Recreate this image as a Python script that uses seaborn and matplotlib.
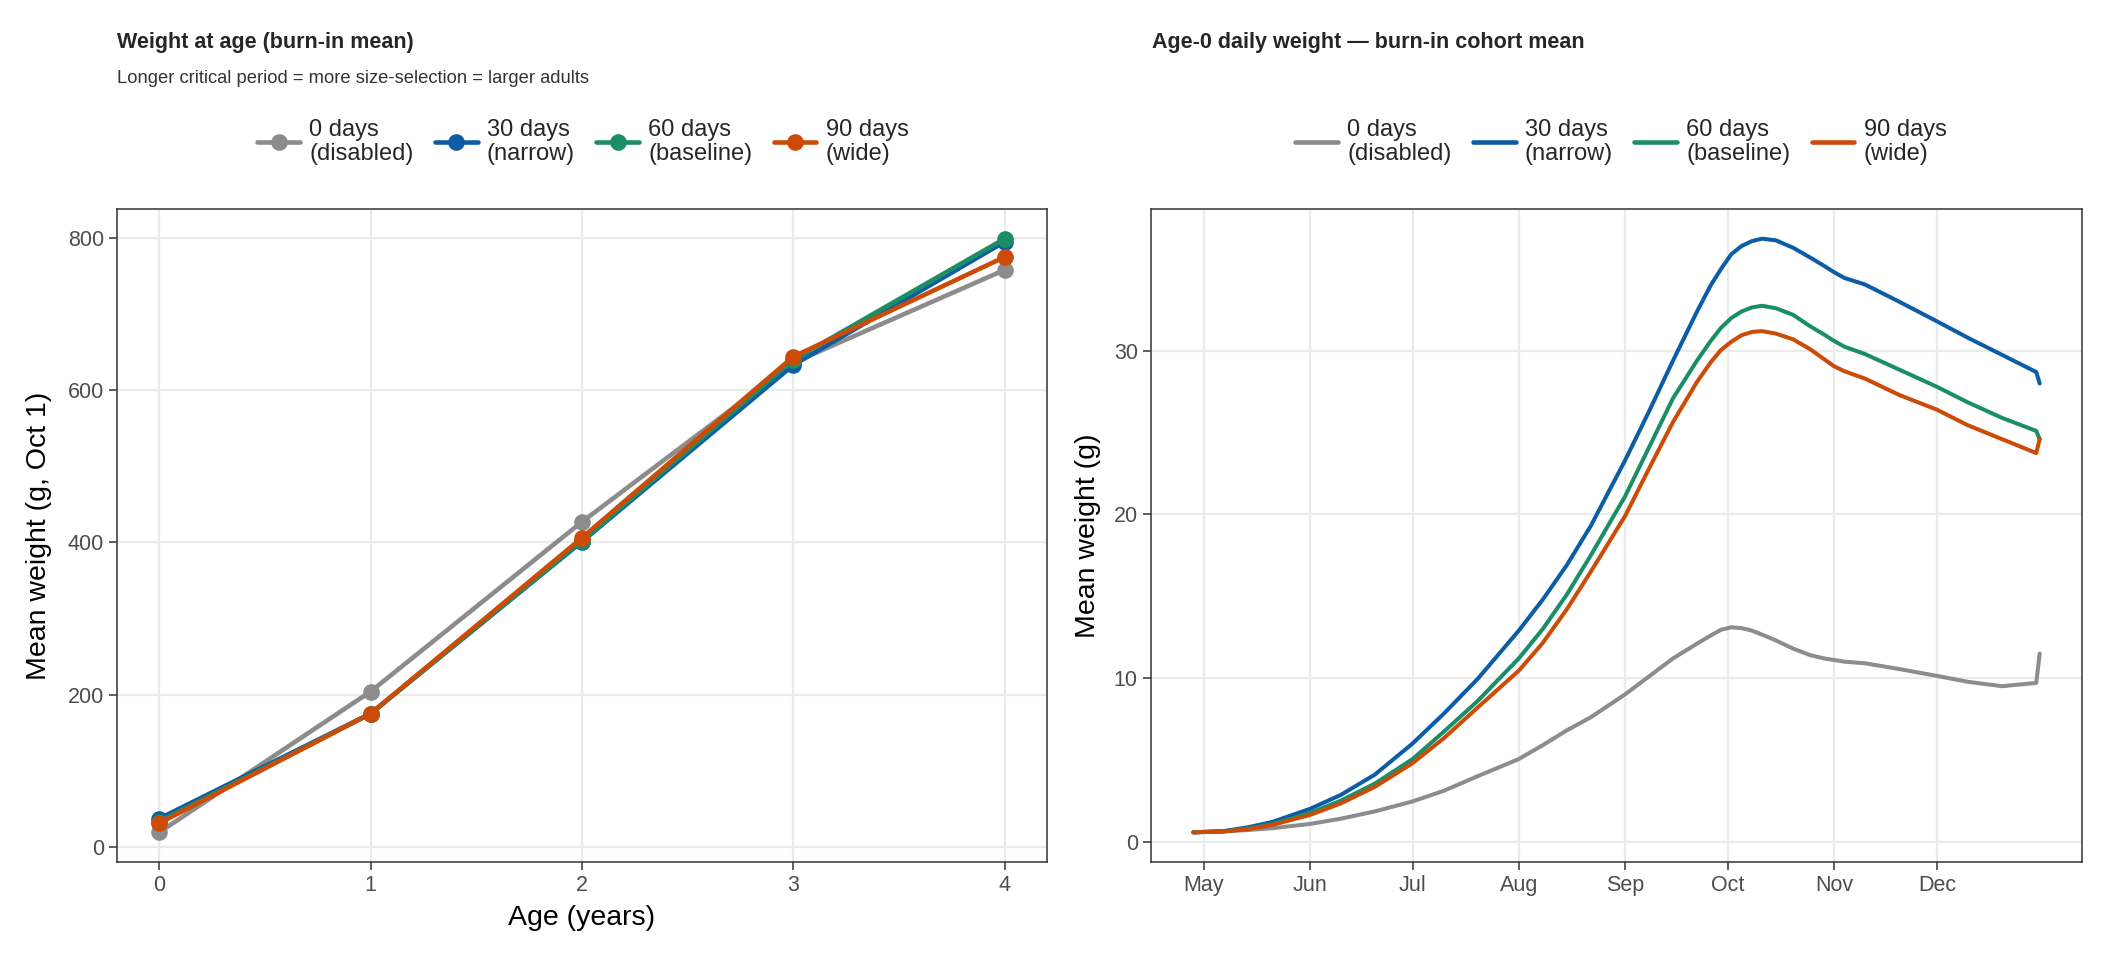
import numpy as np
import pandas as pd
import matplotlib
matplotlib.use("Agg")
import matplotlib.pyplot as plt
import matplotlib.dates as mdates
from matplotlib.lines import Line2D
from matplotlib.ticker import MultipleLocator
import seaborn as sns

# ---------------- data ----------------
scenarios = ["0 days\n(disabled)", "30 days\n(narrow)", "60 days\n(baseline)", "90 days\n(wide)"]
colors = ["#8C8C8C", "#0C5DA5", "#1B8E68", "#CC4B06"]

ages = [0, 1, 2, 3, 4]
wage_0 = [19, 204, 427, 636, 758]
wage_30 = [37, 175, 401, 633, 795]
wage_60 = [33, 175, 402, 640, 799]
wage_90 = [31, 175, 406, 644, 775]

dates = ["2001-04-28", "2001-05-07", "2001-05-14", "2001-05-21", "2001-06-01", "2001-06-10",
         "2001-06-20", "2001-07-01", "2001-07-10", "2001-07-20", "2001-08-01", "2001-08-08",
         "2001-08-15", "2001-08-22", "2001-09-01", "2001-09-08", "2001-09-15", "2001-09-22",
         "2001-09-26", "2001-09-29", "2001-10-02", "2001-10-05", "2001-10-08", "2001-10-11",
         "2001-10-15", "2001-10-20", "2001-10-25", "2001-10-29", "2001-11-01", "2001-11-04",
         "2001-11-10", "2001-11-20", "2001-12-01", "2001-12-10", "2001-12-20", "2001-12-30",
         "2001-12-31"]
wday_0 = [0.57, 0.63, 0.71, 0.82, 1.08, 1.4, 1.85, 2.46, 3.1, 4.0, 5.05, 5.9,
          6.8, 7.6, 9.0, 10.1, 11.2, 12.1, 12.6, 12.95, 13.1, 13.05, 12.9, 12.65,
          12.3, 11.8, 11.4, 11.2, 11.1, 11.0, 10.9, 10.55, 10.13, 9.77, 9.5, 9.7,
          11.5]
wday_30 = [0.57, 0.65, 0.88, 1.2, 2.0, 2.85, 4.1, 6.0, 7.8, 9.95, 12.9, 14.8,
           16.9, 19.3, 23.3, 26.3, 29.4, 32.4, 34.0, 35.0, 35.9, 36.4, 36.7, 36.85,
           36.75, 36.3, 35.7, 35.2, 34.8, 34.45, 34.05, 33.0, 31.8, 30.8, 29.75, 28.7,
           28.0]
wday_60 = [0.57, 0.63, 0.8, 1.07, 1.75, 2.5, 3.55, 5.05, 6.7, 8.6, 11.2, 13.0,
           15.1, 17.5, 21.1, 24.1, 27.1, 29.4, 30.6, 31.4, 32.0, 32.4, 32.65, 32.75,
           32.6, 32.2, 31.5, 31.0, 30.6, 30.25, 29.8, 28.85, 27.8, 26.85, 25.9, 25.1,
           24.6]
wday_90 = [0.57, 0.62, 0.77, 1.02, 1.63, 2.33, 3.35, 4.8, 6.3, 8.2, 10.45, 12.15,
           14.2, 16.5, 19.9, 22.8, 25.65, 28.1, 29.3, 30.05, 30.55, 30.95, 31.15, 31.2,
           31.05, 30.7, 30.1, 29.5, 29.05, 28.75, 28.3, 27.3, 26.4, 25.45, 24.6, 23.75,
           24.6]

df_age = pd.DataFrame({
    "age": ages * 4,
    "weight": wage_0 + wage_30 + wage_60 + wage_90,
    "scenario": np.repeat(scenarios, len(ages)),
})
df_day = pd.DataFrame({
    "date": pd.to_datetime(dates * 4),
    "weight": wday_0 + wday_30 + wday_60 + wday_90,
    "scenario": np.repeat(scenarios, len(dates)),
})
palette = dict(zip(scenarios, colors))

# ---------------- style ----------------
sns.set_style("white")
plt.rcParams["font.family"] = ["Liberation Sans", "DejaVu Sans"]

W, H = 2112, 960
fig = plt.figure(figsize=(W / 100, H / 100), dpi=100)
ax1 = fig.add_axes([117 / W, 1 - 862 / H, 930 / W, 653 / H])
ax2 = fig.add_axes([1151 / W, 1 - 862 / H, 931 / W, 653 / H])

sns.lineplot(data=df_age, x="age", y="weight", hue="scenario", hue_order=scenarios,
             palette=palette, marker="o", markersize=12, markeredgewidth=0,
             linewidth=3.3, ax=ax1, legend=False)
sns.lineplot(data=df_day, x="date", y="weight", hue="scenario", hue_order=scenarios,
             palette=palette, linewidth=2.9, ax=ax2, legend=False)
for ln in ax2.get_lines():
    ln.set_solid_joinstyle("round")

def expand(lo, hi, f=0.05):
    r = hi - lo
    return lo - f * r, hi + f * r

ax1.set_xlim(*expand(min(ages), max(ages)))
ax1.set_ylim(*expand(df_age.weight.min(), df_age.weight.max()))
ax1.xaxis.set_major_locator(MultipleLocator(1))
ax1.yaxis.set_major_locator(MultipleLocator(200))

d0, d1 = df_day.date.min(), df_day.date.max()
pad = (d1 - d0) * 0.05
ax2.set_xlim(d0 - pad, d1 + pad)
ax2.set_ylim(*expand(df_day.weight.min(), df_day.weight.max()))
ax2.xaxis.set_major_locator(mdates.MonthLocator(bymonth=range(5, 13)))
ax2.xaxis.set_major_formatter(mdates.DateFormatter("%b"))
ax2.yaxis.set_major_locator(MultipleLocator(10))

for ax in (ax1, ax2):
    ax.grid(True, color="#EBEBEB", lw=1.6)
    ax.set_axisbelow(True)
    for s in ax.spines.values():
        s.set_color("#333333")
        s.set_linewidth(1.1)
        s.set_visible(True)
    ax.tick_params(axis="both", length=6, width=1.1, color="#333333",
                   labelsize=15.5, labelcolor="#4D4D4D", pad=3.5, direction="out",
                   bottom=True, left=True)

ax1.set_xlabel("Age (years)", fontsize=20.5, color="black", labelpad=6)
ax1.set_ylabel("Mean weight (g, Oct 1)", fontsize=20.5, color="black")
ax1.yaxis.set_label_coords(-0.070, 0.5)
ax2.set_xlabel("")
ax2.set_ylabel("Mean weight (g)", fontsize=20.5, color="black")
ax2.yaxis.set_label_coords(-0.054, 0.5)

# titles
fig.text(117 / W, 1 - 48 / H, "Weight at age (burn-in mean)", fontsize=15.5,
         fontweight="bold", ha="left", va="baseline")
fig.text(117 / W, 1 - 83 / H, "Longer critical period = more size-selection = larger adults",
         fontsize=13.2, color="#333333", ha="left", va="baseline")
fig.text(1152 / W, 1 - 48 / H, "Age-0 daily weight \u2014 burn-in cohort mean", fontsize=15.5,
         fontweight="bold", ha="left", va="baseline")

# legends
h1 = [Line2D([0], [0], color=c, lw=3.3, marker="o", markersize=12, mew=0) for c in colors]
h2 = [Line2D([0], [0], color=c, lw=3.3) for c in colors]
for ax, handles, xc in ((ax1, h1, 583), (ax2, h2, 1621)):
    leg = ax.legend(handles, scenarios, loc="center", bbox_to_anchor=(xc / W, 1 - 142 / H),
                    bbox_transform=fig.transFigure, ncol=4, frameon=False, fontsize=17,
                    handlelength=1.8, handletextpad=0.4, columnspacing=0.9)
    for t in leg.get_texts():
        t.set_linespacing(1.1)

fig.savefig("out.png", dpi=100, facecolor="white")
